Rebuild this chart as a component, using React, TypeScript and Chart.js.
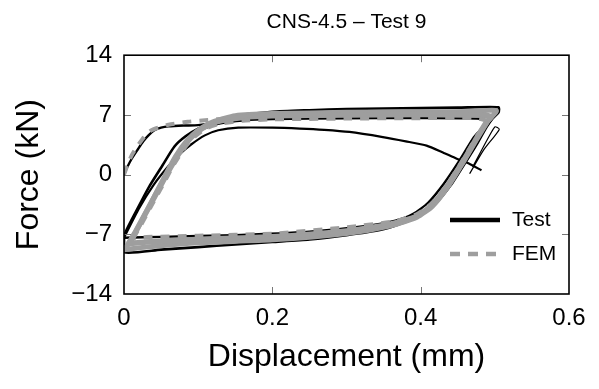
import React, { useEffect, useRef } from 'react';
import { Chart, registerables } from 'chart.js';

Chart.register(...registerables);

const chartTitle = 'CNS-4.5 – Test 9';
const xAxisTitle = 'Displacement (mm)';
const yAxisTitle = 'Force (kN)';
const legendLabels = ['Test', 'FEM'];
const xTickValues = [0, 0.2, 0.4, 0.6];
const xTickLabels = ['0', '0.2', '0.4', '0.6'];
const yTickValues = [-14, -7, 0, 7, 14];
const yTickLabels = ['−14', '−7', '0', '7', '14'];

// ---- Test (black) ----
const testInitialDisp = [0.0, 0.004, 0.01, 0.019, 0.026, 0.033, 0.041, 0.05, 0.06, 0.08, 0.1, 0.115, 0.132, 0.15];
const testInitialForce = [0.0, 0.8, 1.8, 3.0, 3.9, 4.6, 5.2, 5.5, 5.65, 5.75, 5.8, 6.0, 6.4, 6.8];

const testOuterDisp = [0.15, 0.2, 0.25, 0.3, 0.35, 0.4, 0.45, 0.505, 0.505, 0.497, 0.489, 0.476, 0.461, 0.441, 0.42, 0.399, 0.372, 0.345, 0.3, 0.25, 0.2, 0.15, 0.1, 0.05, 0.0, 0.0, 0.017, 0.034, 0.052, 0.068, 0.083, 0.1, 0.13, 0.16, 0.2];
const testOuterForce = [6.8, 7.35, 7.55, 7.7, 7.75, 7.8, 7.85, 7.9, 7.3, 6.6, 5.6, 3.6, 1.5, -1.2, -3.4, -4.8, -5.8, -6.5, -7.1, -7.6, -7.9, -8.2, -8.5, -8.8, -9.1, -7.2, -4.2, -1.4, 1.1, 3.3, 4.5, 5.4, 6.5, 7.05, 7.35];

const testInnerDisp = [0.1, 0.13, 0.16, 0.2, 0.3, 0.4, 0.48, 0.49, 0.472, 0.452, 0.431, 0.41, 0.39, 0.366, 0.33, 0.25, 0.15, 0.05, 0.0];
const testInnerForce = [5.2, 6.0, 6.35, 6.5, 6.6, 6.62, 6.55, 6.2, 4.4, 1.6, -1.1, -3.3, -4.6, -5.4, -6.0, -6.7, -7.1, -7.3, -7.4];

const testFinalDisp = [0.0, 0.02, 0.04, 0.06, 0.075, 0.09, 0.109, 0.127, 0.154, 0.2, 0.237, 0.27, 0.304, 0.349, 0.38, 0.408, 0.43, 0.448, 0.465, 0.482];
const testFinalForce = [-7.4, -4.0, -1.2, 1.0, 2.4, 3.5, 4.6, 5.2, 5.5, 5.5, 5.4, 5.25, 5.0, 4.4, 3.9, 3.4, 2.6, 1.9, 1.3, 0.5];

const testTailDisp = [0.466, 0.485, 0.506, 0.5, 0.483, 0.47];
const testTailForce = [0.1, 2.9, 5.3, 5.6, 3.0, 0.9];

// ---- FEM (grey dashed) ----
const femInitialDisp = [0.0, 0.005, 0.01, 0.017, 0.027, 0.037, 0.05, 0.06, 0.086, 0.113, 0.14];
const femInitialForce = [0.0, 1.2, 2.2, 3.2, 4.4, 5.2, 5.6, 5.85, 6.2, 6.4, 6.6];

const femCycleADisp = [0.012, 0.022, 0.037, 0.052, 0.067, 0.082, 0.097, 0.112, 0.13, 0.16, 0.2, 0.3, 0.4, 0.47, 0.488, 0.474, 0.455, 0.435, 0.414, 0.394, 0.365, 0.3, 0.2, 0.1, 0.03, 0.012];
const femCycleAForce = [-7.5, -6.0, -3.6, -1.2, 1.2, 3.2, 4.6, 5.5, 6.0, 6.35, 6.5, 6.6, 6.65, 6.65, 6.3, 4.2, 1.4, -1.3, -3.5, -4.7, -5.5, -6.2, -6.95, -7.2, -7.35, -7.5];

const femCycleBDisp = [0.006, 0.015, 0.03, 0.045, 0.06, 0.075, 0.09, 0.105, 0.125, 0.16, 0.2, 0.3, 0.4, 0.48, 0.495, 0.489, 0.475, 0.456, 0.436, 0.415, 0.394, 0.36, 0.3, 0.2, 0.1, 0.03, 0.006];
const femCycleBForce = [-8.1, -6.8, -4.4, -2.0, 0.4, 2.6, 4.3, 5.4, 6.2, 6.7, 6.9, 7.0, 7.05, 7.0, 6.8, 6.2, 4.2, 1.4, -1.3, -3.6, -4.9, -5.8, -6.6, -7.3, -7.6, -7.9, -8.1];

const femCycleCDisp = [0.0, 0.01, 0.025, 0.04, 0.055, 0.07, 0.085, 0.1, 0.12, 0.15, 0.2, 0.3, 0.4, 0.47, 0.502, 0.49, 0.476, 0.457, 0.437, 0.416, 0.395, 0.36, 0.3, 0.2, 0.1, 0.03, 0.0];
const femCycleCForce = [-8.8, -7.6, -5.2, -2.7, -0.2, 2.2, 4.0, 5.2, 6.2, 6.9, 7.15, 7.3, 7.35, 7.4, 7.5, 6.2, 4.2, 1.4, -1.4, -3.7, -5.0, -6.0, -6.9, -7.65, -8.0, -8.5, -8.8];

const TEST_COLOR = '#000000';
const FEM_COLOR = '#9e9e9e';
const FONT = '"Liberation Sans", Arial, Helvetica, sans-serif';

const zip = (xs: number[], ys: number[]) => xs.map((x, i) => ({ x, y: ys[i] }));

const framePlugin = {
  id: 'frameAndLegend',
  afterDraw(chart: any) {
    const { ctx, chartArea } = chart;
    const { left, right, top, bottom } = chartArea;
    const xs = chart.scales.x;
    const ys = chart.scales.y;
    ctx.save();
    // inward mirror ticks
    ctx.strokeStyle = '#777';
    ctx.lineWidth = 1;
    const tl = 7;
    xTickValues.forEach((v) => {
      const px = Math.round(xs.getPixelForValue(v)) + 0.5;
      if (px <= left + 2 || px >= right - 2) return;
      ctx.beginPath();
      ctx.moveTo(px, bottom);
      ctx.lineTo(px, bottom - tl);
      ctx.moveTo(px, top);
      ctx.lineTo(px, top + tl);
      ctx.stroke();
    });
    yTickValues.forEach((v) => {
      const py = Math.round(ys.getPixelForValue(v)) + 0.5;
      if (py <= top + 2 || py >= bottom - 2) return;
      ctx.beginPath();
      ctx.moveTo(left, py);
      ctx.lineTo(left + tl, py);
      ctx.moveTo(right, py);
      ctx.lineTo(right - tl, py);
      ctx.stroke();
    });
    // frame
    ctx.strokeStyle = '#000';
    ctx.lineWidth = 1.6;
    ctx.strokeRect(left, top, right - left, bottom - top);

    // legend
    const lx0 = right - 119;
    const lx1 = right - 69;
    const ly = [bottom - 74, bottom - 40];
    ctx.lineWidth = 4.5;
    ctx.setLineDash([]);
    ctx.strokeStyle = TEST_COLOR;
    ctx.beginPath();
    ctx.moveTo(lx0, ly[0]);
    ctx.lineTo(lx1, ly[0]);
    ctx.stroke();
    ctx.strokeStyle = FEM_COLOR;
    ctx.setLineDash([10, 8]);
    ctx.beginPath();
    ctx.moveTo(lx0, ly[1]);
    ctx.lineTo(lx1, ly[1]);
    ctx.stroke();
    ctx.setLineDash([]);
    ctx.fillStyle = '#000';
    ctx.font = `21px ${FONT}`;
    ctx.textAlign = 'left';
    ctx.textBaseline = 'middle';
    ctx.fillText(legendLabels[0], right - 57, ly[0]);
    ctx.fillText(legendLabels[1], right - 57, ly[1]);
    ctx.restore();
  },
};

export default function App() {
  const canvasRef = useRef<HTMLCanvasElement | null>(null);

  useEffect(() => {
    if (!canvasRef.current) return;
    const testLine = (xs: number[], ys: number[], w = 2.4) => ({
      label: legendLabels[0],
      data: zip(xs, ys),
      borderColor: TEST_COLOR,
      borderWidth: w,
      showLine: true,
      pointRadius: 0,
      tension: 0.2,
      order: 2,
    });
    const femLine = (xs: number[], ys: number[], dash: number[], w = 4.5) => ({
      label: legendLabels[1],
      data: zip(xs, ys),
      borderColor: FEM_COLOR,
      borderWidth: w,
      borderDash: dash,
      showLine: true,
      pointRadius: 0,
      tension: 0.2,
      order: 1,
    });

    const chart = new Chart(canvasRef.current, {
      type: 'scatter',
      data: {
        datasets: [
          femLine(femCycleADisp, femCycleAForce, [9, 8], 4.5),
          femLine(femCycleBDisp, femCycleBForce, [], 5.5),
          femLine(femCycleCDisp, femCycleCForce, [], 5),
          femLine(femInitialDisp, femInitialForce, [9, 8], 4),
          testLine(testInitialDisp, testInitialForce),
          testLine(testOuterDisp, testOuterForce, 2.6),
          testLine(testInnerDisp, testInnerForce),
          testLine(testFinalDisp, testFinalForce, 2.2),
          testLine(testTailDisp, testTailForce, 1.2),
        ] as any,
      },
      options: {
        animation: false,
        responsive: false,
        devicePixelRatio: 1,
        layout: { padding: { top: 0, right: 30, bottom: 0, left: 0 } },
        plugins: {
          legend: { display: false },
          tooltip: { enabled: false },
          title: {
            display: true,
            text: chartTitle,
            fullSize: false,
            color: '#000',
            font: { family: FONT, size: 21, weight: 'normal' },
            padding: { top: 10, bottom: 20 },
          },
        },
        scales: {
          x: {
            type: 'linear',
            min: 0,
            max: 0.6,
            afterFit: (s: any) => { s.height = 95; },
            afterBuildTicks: (s: any) => { s.ticks = xTickValues.map((v) => ({ value: v })); },
            grid: { display: false, drawTicks: false },
            border: { display: false },
            ticks: {
              color: '#000',
              padding: 10,
              font: { family: FONT, size: 24 },
              maxRotation: 0,
              callback: (_v: any, i: number) => xTickLabels[i],
            },
            title: {
              display: true,
              text: xAxisTitle,
              color: '#000',
              font: { family: FONT, size: 32 },
              padding: { top: 0, bottom: 13 },
            },
          },
          y: {
            type: 'linear',
            min: -14,
            max: 14,
            afterFit: (s: any) => { s.width = 124; },
            afterBuildTicks: (s: any) => { s.ticks = yTickValues.map((v) => ({ value: v })); },
            grid: { display: false, drawTicks: false },
            border: { display: false },
            ticks: {
              color: '#000',
              padding: 12,
              font: { family: FONT, size: 24 },
              callback: (_v: any, i: number) => yTickLabels[i],
            },
            title: {
              display: true,
              text: yAxisTitle,
              color: '#000',
              font: { family: FONT, size: 32 },
              padding: { top: 10, bottom: 0 },
            },
          },
        },
      } as any,
      plugins: [framePlugin],
    });
    return () => chart.destroy();
  }, []);

  return (
    <div style={{ position: 'fixed', left: 0, top: 0, width: 599, height: 389, background: '#fff' }}>
      <canvas ref={canvasRef} width={599} height={389} style={{ width: 599, height: 389, display: 'block' }} />
    </div>
  );
}
